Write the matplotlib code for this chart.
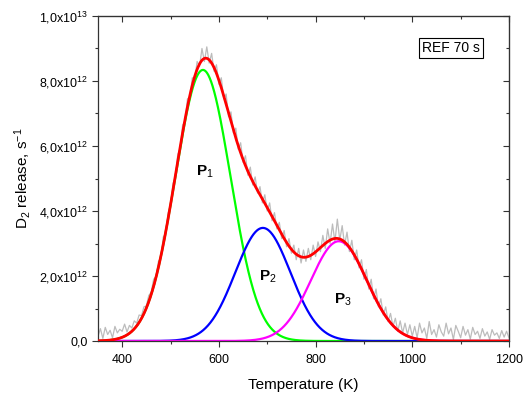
import numpy as np
import matplotlib
matplotlib.use("Agg")
import matplotlib.pyplot as plt
from matplotlib.ticker import FixedLocator, MultipleLocator

plt.rcParams['font.family'] = ['Liberation Sans', 'DejaVu Sans']
plt.rcParams['mathtext.fontset'] = 'custom'
plt.rcParams['mathtext.rm'] = 'Liberation Sans'
plt.rcParams['mathtext.it'] = 'Liberation Sans'

# ---- data (units: 1e12 s^-1) ----
temp_start, temp_stop, temp_step = 350, 1200, 5
measured = [
    0.15, 0.38, 0.08, 0.42, 0.20, 0.33, 0.10, 0.45, 0.25, 0.36,   # 350-395
    0.30, 0.52, 0.28, 0.48, 0.40, 0.62, 0.55, 0.80, 0.78, 1.05,   # 400-445
    1.08, 1.40, 1.50, 1.90, 1.98, 2.45, 2.55, 3.20, 3.30, 3.95,   # 450-495
    4.15, 4.85, 5.00, 5.75, 5.90, 6.65, 6.75, 7.45, 7.50, 8.10,   # 500-545
    8.05, 8.60, 8.45, 9.00, 8.60, 9.05, 8.55, 8.85, 8.30, 8.50,   # 550-595
    7.90, 8.10, 7.45, 7.60, 6.90, 7.05, 6.40, 6.55, 5.90, 6.10,   # 600-645
    5.50, 5.70, 5.10, 5.35, 4.80, 5.05, 4.55, 4.75, 4.25, 4.50,   # 650-695
    4.00, 4.25, 3.70, 3.95, 3.45, 3.65, 3.15, 3.40, 2.90, 3.15,   # 700-745
    2.70, 2.95, 2.50, 2.85, 2.40, 2.80, 2.45, 2.85, 2.50, 2.95,   # 750-795
    2.60, 3.05, 2.75, 3.25, 2.85, 3.45, 3.00, 3.60, 3.05, 3.75,   # 800-845
    3.10, 3.55, 2.95, 3.35, 2.75, 3.10, 2.50, 2.80, 2.25, 2.50,   # 850-895
    1.90, 2.20, 1.60, 1.90, 1.30, 1.60, 1.05, 1.30, 0.80, 1.05,   # 900-945
    0.60, 0.85, 0.45, 0.70, 0.30, 0.62, 0.25, 0.55, 0.20, 0.50,   # 950-995
    0.15, 0.45, 0.10, 0.55, 0.25, 0.40, 0.08, 0.60, 0.20, 0.35,   # 1000-1045
    0.12, 0.50, 0.28, 0.15, 0.55, 0.22, 0.40, 0.05, 0.48, 0.30,   # 1050-1095
    0.10, 0.45, 0.18, 0.35, 0.06, 0.42, 0.20, 0.30, 0.08, 0.38,   # 1100-1145
    0.15, 0.28, 0.05, 0.35, 0.18, 0.25, 0.08, 0.32, 0.12, 0.30,   # 1150-1195
    0.10,                                                         # 1200
]
temps = np.arange(temp_start, temp_stop + 1, temp_step)
assert len(temps) == len(measured)

# Gaussian fit peaks: name, centre (K), amplitude (1e12 s^-1), sigma (K)
peak_names = ["P1", "P2", "P3"]
peak_centers = [567, 691, 848]
peak_amplitudes = [8.34, 3.48, 3.07]
peak_sigmas = [57, 57, 58]
peak_colors = ["#00ff00", "#0000ff", "#ff00ff"]

xticks = [400, 600, 800, 1000, 1200]
yticks = [0, 2, 4, 6, 8, 10]
ytick_labels = ["0,0", "2,0x10$^{12}$", "4,0x10$^{12}$", "6,0x10$^{12}$",
                "8,0x10$^{12}$", "1,0x10$^{13}$"]

scale = 1e12
fig = plt.figure(figsize=(5.23, 3.94), dpi=100)
ax = fig.add_axes([0.1874, 0.1345, 0.7858, 0.8249])

tfine = np.linspace(350, 1200, 1200)
comps = []
for c, a, s in zip(peak_centers, peak_amplitudes, peak_sigmas):
    comps.append(a * scale * np.exp(-(tfine - c) ** 2 / (2 * s ** 2)))
total = np.sum(comps, axis=0)

ax.plot(temps, np.array(measured) * scale, color="#bcbcbc", lw=0.9, zorder=1)
for comp, col in zip(comps, peak_colors):
    ax.plot(tfine, comp, color=col, lw=1.6, zorder=2)
ax.plot(tfine, total, color="#ff0000", lw=2.0, zorder=3)

ax.set_xlim(350, 1200)
ax.set_ylim(0, 1e13)
ax.xaxis.set_major_locator(FixedLocator(xticks))
ax.xaxis.set_minor_locator(MultipleLocator(100))
ax.set_yticks([v * scale for v in yticks])
ax.set_yticklabels(ytick_labels)
ax.yaxis.set_minor_locator(MultipleLocator(1e12))
ax.tick_params(axis='both', which='both', labelsize=9, width=0.8, color='#333333')
ax.tick_params(which='major', length=4)
ax.tick_params(which='minor', length=2.5)
ax.tick_params(axis='x', which='major', pad=5)
ax.tick_params(axis='x', which='both', direction='out')
ax.tick_params(axis='y', which='both', direction='out')
for spine in ax.spines.values():
    spine.set_linewidth(0.9)
    spine.set_color('#333333')

# top/right ticks pointing inward
secx = ax.secondary_xaxis('top')
secx.xaxis.set_major_locator(FixedLocator(xticks))
secx.xaxis.set_minor_locator(MultipleLocator(100))
secx.tick_params(which='both', direction='in', labeltop=False, color='#333333', width=0.8)
secx.tick_params(which='major', length=4)
secx.tick_params(which='minor', length=2.5)
secy = ax.secondary_yaxis('right')
secy.set_yticks([v * scale for v in yticks])
secy.yaxis.set_minor_locator(MultipleLocator(1e12))
secy.tick_params(which='both', direction='in', labelright=False, color='#333333', width=0.8)
secy.tick_params(which='major', length=4)
secy.tick_params(which='minor', length=2.5)
ax.tick_params(top=False, right=False)

ax.set_xlabel("Temperature (K)", fontsize=11, labelpad=9)
ax.set_ylabel("D$_2$ release, s$^{-1}$", fontsize=11, labelpad=4)

label_pos = [(571, 5.2), (701, 1.97), (856, 1.26)]
for name, (lx, ly) in zip(peak_names, label_pos):
    ax.text(lx, ly * scale, "P$_{%s}$" % name[1:], fontsize=11, fontweight='bold',
            ha='center', va='center', zorder=5)

ax.text(0.859, 0.9015, "REF 70 s", transform=ax.transAxes, fontsize=10,
        ha='center', va='center',
        bbox=dict(boxstyle='square,pad=0.2', fc='white', ec='black', lw=0.8))

fig.savefig("out.png", dpi=100)
